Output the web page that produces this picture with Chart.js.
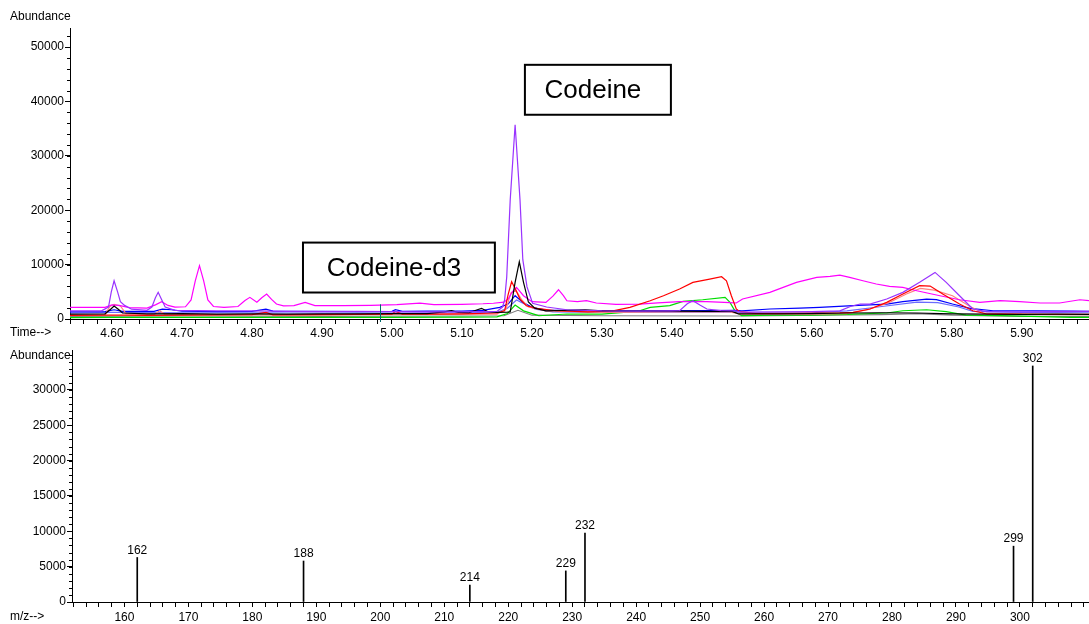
<!DOCTYPE html>
<html>
<head>
<meta charset="utf-8">
<script src="https://cdn.jsdelivr.net/npm/chart.js@4.4.1/dist/chart.umd.min.js"></script>
<style>
html,body{margin:0;padding:0;background:#fff;}
#wrap{position:relative;width:1089px;height:624px;}
canvas{position:absolute;left:0;}
#tic{top:0;}
#ms{top:340px;}
</style>
</head>
<body>
<div id="wrap">
  <canvas id="tic" width="1089" height="340"></canvas>
  <canvas id="ms" width="1089" height="284"></canvas>
</div>
<script>
// ion chromatogram traces: [time (min), abundance]
const purpleTrace = [[4.54,1500],[4.585,1500],[4.595,2200],[4.599,5000],[4.603,7030],[4.608,5000],[4.612,3200],[4.618,2500],[4.628,1800],[4.65,1600],[4.657,2200],[4.662,3900],[4.666,4900],[4.670,3800],[4.676,2200],[4.69,1600],[4.75,1500],[4.80,1500],[4.85,1400],[4.90,1350],[4.95,1400],[5.00,1350],[5.05,1300],[5.10,1300],[5.15,1400],[5.158,2200],[5.161,3500],[5.164,7700],[5.169,21900],[5.176,35700],[5.183,21900],[5.187,10900],[5.193,5900],[5.201,2900],[5.221,2200],[5.25,1700],[5.30,1500],[5.35,1450],[5.40,1500],[5.411,1520],[5.422,2800],[5.430,3360],[5.440,2570],[5.450,1840],[5.47,1550],[5.49,1500],[5.50,1250],[5.55,1300],[5.60,1350],[5.64,1500],[5.655,2300],[5.669,2750],[5.683,2750],[5.707,3670],[5.730,4900],[5.754,6740],[5.776,8570],[5.792,6740],[5.811,4280],[5.830,1840],[5.850,1350],[5.90,1300],[5.95,1350],[5.996,1400]];
const blackTrace = [[4.54,900],[4.59,950],[4.598,1800],[4.603,2400],[4.609,1800],[4.615,1100],[4.65,950],[4.70,1000],[4.75,900],[4.80,950],[4.85,900],[4.90,950],[4.95,950],[5.00,1000],[5.05,1000],[5.075,1300],[5.085,1520],[5.095,1200],[5.11,1150],[5.122,1700],[5.128,1960],[5.136,1400],[5.15,1200],[5.165,1250],[5.169,1290],[5.176,6740],[5.182,10520],[5.188,6740],[5.195,3120],[5.204,2000],[5.22,1500],[5.276,1700],[5.30,1500],[5.35,1450],[5.40,1450],[5.45,1400],[5.485,1450],[5.495,950],[5.55,950],[5.60,1000],[5.65,1100],[5.70,1150],[5.75,1100],[5.80,950],[5.85,900],[5.90,850],[5.95,900],[5.996,850]];
const redTrace = [[4.54,650],[4.59,700],[4.62,700],[4.65,650],[4.70,700],[4.75,750],[4.80,800],[4.82,1200],[4.83,750],[4.90,800],[4.95,850],[5.00,900],[5.005,1400],[5.015,900],[5.05,900],[5.10,950],[5.15,1100],[5.161,1500],[5.166,4500],[5.171,6850],[5.176,5600],[5.183,3670],[5.192,2440],[5.207,1960],[5.235,1520],[5.28,1300],[5.316,1500],[5.34,2150],[5.369,3360],[5.388,4280],[5.411,5510],[5.430,6740],[5.454,7340],[5.471,7770],[5.478,7030],[5.485,4280],[5.492,1840],[5.497,1350],[5.52,1050],[5.56,1050],[5.60,1100],[5.64,1150],[5.659,1230],[5.683,1840],[5.707,3060],[5.730,4590],[5.754,6120],[5.769,6060],[5.787,4590],[5.811,2750],[5.830,1520],[5.850,920],[5.90,900],[5.95,850],[5.996,850]];
const magentaTrace = [[4.54,2150],[4.59,2150],[4.600,2600],[4.610,2500],[4.625,2100],[4.65,2000],[4.662,2600],[4.671,3170],[4.68,2500],[4.69,2200],[4.705,2250],[4.713,3500],[4.719,7000],[4.725,9800],[4.731,7000],[4.737,3500],[4.745,2300],[4.76,2150],[4.78,2300],[4.790,3400],[4.797,3980],[4.807,3070],[4.814,3900],[4.821,4590],[4.828,3600],[4.835,2750],[4.845,2400],[4.86,2450],[4.876,3060],[4.89,2450],[4.93,2450],[4.97,2500],[5.007,2630],[5.04,2900],[5.06,2650],[5.10,2700],[5.13,2800],[5.145,2900],[5.160,3100],[5.166,3670],[5.172,5000],[5.178,5820],[5.188,4280],[5.200,3180],[5.220,3060],[5.230,4200],[5.238,5380],[5.245,4300],[5.250,3360],[5.265,3200],[5.278,3360],[5.292,2940],[5.32,2700],[5.354,2750],[5.38,2950],[5.411,3180],[5.45,3200],[5.483,3000],[5.492,2940],[5.501,3670],[5.54,4900],[5.578,6740],[5.607,7650],[5.626,7830],[5.64,8080],[5.654,7650],[5.673,7030],[5.692,6430],[5.711,6000],[5.730,5820],[5.750,5200],[5.783,4280],[5.811,3540],[5.84,3060],[5.869,3360],[5.897,3180],[5.926,2940],[5.954,2940],[5.983,3540],[5.996,3360]];
const salmonTrace = [[4.54,700],[4.59,750],[4.597,2300],[4.603,2700],[4.612,2400],[4.62,1000],[4.66,800],[4.668,1500],[4.675,900],[4.75,800],[4.85,750],[4.95,800],[5.05,850],[5.15,900],[5.163,1800],[5.170,4800],[5.177,5300],[5.185,3600],[5.195,2200],[5.22,1500],[5.30,1200],[5.40,1300],[5.48,1350],[5.50,900],[5.60,900],[5.65,1000],[5.68,1700],[5.71,3000],[5.735,4600],[5.755,5630],[5.775,5300],[5.801,4280],[5.826,2300],[5.845,1100],[5.90,850],[5.996,800]];
const blueTrace = [[4.54,1300],[4.59,1350],[4.603,1700],[4.615,1400],[4.66,1400],[4.672,1800],[4.685,1700],[4.70,1450],[4.75,1350],[4.80,1400],[4.82,1800],[4.83,1450],[4.90,1400],[4.95,1350],[5.00,1400],[5.005,1700],[5.015,1400],[5.05,1450],[5.10,1450],[5.13,1600],[5.154,2150],[5.166,2750],[5.176,4280],[5.187,3060],[5.200,2150],[5.22,1650],[5.25,1600],[5.30,1550],[5.35,1520],[5.40,1550],[5.45,1550],[5.49,1600],[5.50,1500],[5.54,1840],[5.583,2000],[5.611,2150],[5.659,2450],[5.707,2750],[5.730,3180],[5.764,3670],[5.778,3550],[5.801,2750],[5.826,1960],[5.859,1520],[5.921,1520],[5.973,1430],[5.996,1400]];
const lightBlueTrace = [[4.54,1100],[4.60,1200],[4.70,1150],[4.80,1150],[4.90,1100],[5.00,1100],[5.10,1150],[5.15,1200],[5.165,2000],[5.178,3500],[5.19,2700],[5.205,1800],[5.23,1300],[5.30,1200],[5.40,1250],[5.49,1250],[5.50,1100],[5.60,1150],[5.65,1500],[5.70,2300],[5.75,3100],[5.78,3000],[5.81,2200],[5.83,1400],[5.90,1200],[5.996,1150]];
const greenTrace = [[4.54,250],[4.60,300],[4.70,300],[4.80,300],[4.90,300],[5.00,300],[5.10,350],[5.15,400],[5.165,1000],[5.176,2570],[5.188,1500],[5.205,800],[5.21,600],[5.25,920],[5.30,900],[5.34,1300],[5.354,1520],[5.369,2150],[5.397,2450],[5.416,3250],[5.444,3540],[5.476,3980],[5.483,3060],[5.490,1520],[5.4996,610],[5.55,700],[5.60,700],[5.65,850],[5.707,1100],[5.730,1520],[5.764,1700],[5.792,1350],[5.820,730],[5.870,610],[5.970,310],[5.996,300]];
const grayTrace = [[4.54,500],[4.70,550],[4.90,500],[5.10,550],[5.16,600],[5.18,1600],[5.20,700],[5.30,600],[5.50,550],[5.70,800],[5.75,1000],[5.80,700],[5.90,500],[5.996,500]];

const traceColors = ['#9933ff','#000000','#ff0000','#ff00ff','#ff8080','#0000ff','#6b6bff','#00dd00','#808080'];
const traces = [purpleTrace,blackTrace,redTrace,magentaTrace,salmonTrace,blueTrace,lightBlueTrace,greenTrace,grayTrace];
const cursorTime = 4.983;
const ticYTicks = [0,10000,20000,30000,40000,50000];

// mass spectrum
const massValues = [162,188,214,229,232,299,302];
const massAbund = [6300,5800,2400,4400,9760,7900,33400];
const msYTicks = [0,5000,10000,15000,20000,25000,30000];

const boxes = [
  {text:'Codeine', t0:5.19, t1:5.3986, top:46730, bottom:37550},
  {text:'Codeine-d3', t0:4.8729, t1:5.1471, top:14050, bottom:4870}
];

const FONT = '"Liberation Sans", Arial, sans-serif';
const tickFont = {family:FONT, size:12};

// piccole tacche secondarie sull'asse y
function minorTicks(step){
  return {id:'minor', afterDraw(c){
    const y=c.scales.y, ctx=c.ctx, L=Math.round(c.chartArea.left);
    ctx.save(); ctx.strokeStyle='#000'; ctx.lineWidth=1; ctx.beginPath();
    for(let v=step; v<y.max; v+=step){
      const p=Math.round(y.getPixelForValue(v))+0.5;
      ctx.moveTo(L-3,p); ctx.lineTo(L,p);
    }
    ctx.stroke(); ctx.restore();
  }};
}

function sideText(items){
  return {id:'sideText', afterDraw(c){
    const ctx=c.ctx, a=c.chartArea;
    ctx.save(); ctx.font='12px '+FONT; ctx.fillStyle='#000'; ctx.textBaseline='middle';
    items.forEach(([t,x,fy])=>ctx.fillText(t,x,fy(a)));
    ctx.restore();
  }};
}

const boxPlugin = {id:'boxes', afterDraw(c){
  const {x,y}=c.scales, ctx=c.ctx;
  ctx.save();
  boxes.forEach(b=>{
    const l=x.getPixelForValue(b.t0), r=x.getPixelForValue(b.t1);
    const t=y.getPixelForValue(b.top), bt=y.getPixelForValue(b.bottom);
    ctx.fillStyle='#fff'; ctx.fillRect(l,t,r-l,bt-t);
    ctx.lineWidth=2; ctx.strokeStyle='#000'; ctx.strokeRect(l,t,r-l,bt-t);
    ctx.fillStyle='#000'; ctx.font='26px '+FONT; ctx.textAlign='center'; ctx.textBaseline='middle';
    ctx.fillText(b.text,(l+r)/2-5,(t+bt)/2+1);
  });
  ctx.restore();
}};

const cursorPlugin = {id:'cursor', afterDatasetsDraw(c){
  const {x,y}=c.scales, ctx=c.ctx;
  const px=Math.round(x.getPixelForValue(cursorTime))+0.5;
  ctx.save(); ctx.strokeStyle='#006a6a'; ctx.lineWidth=1; ctx.beginPath();
  ctx.moveTo(px,y.getPixelForValue(2700)); ctx.lineTo(px,c.chartArea.bottom+3); ctx.stroke();
  ctx.restore();
}};

const peakLabels = {id:'peakLabels', afterDatasetsDraw(c){
  const meta=c.getDatasetMeta(0), ctx=c.ctx;
  ctx.save(); ctx.font='12px '+FONT; ctx.textAlign='center'; ctx.textBaseline='bottom'; ctx.fillStyle='#000';
  meta.data.forEach((el,i)=>ctx.fillText(String(massValues[i]),el.x,el.y-1));
  ctx.restore();
}};

const axisBase = {
  grid:{drawOnChartArea:false, color:'#000', tickLength:5},
  border:{color:'#000', width:1}
};

/* CROMATOGRAMMA */
new Chart(document.getElementById('tic').getContext('2d'),{
  type:'line',
  data:{datasets:traces.map((tr,i)=>({
    data:tr.map(p=>({x:p[0],y:p[1]})),
    borderColor:traceColors[i], borderWidth:1.2, pointRadius:0, tension:0, fill:false
  }))},
  options:{
    responsive:false, animation:false, events:[],
    layout:{padding:{top:28,right:0,left:0,bottom:0}},
    plugins:{legend:{display:false}, tooltip:{enabled:false}},
    scales:{
      x:{...axisBase, type:'linear', min:4.54, max:5.996,
        ticks:{stepSize:0.02, includeBounds:false, autoSkip:false, maxRotation:0, padding:2, color:'#000', font:tickFont,
          callback:v=>Math.abs(v*10-Math.round(v*10))<1e-6 ? v.toFixed(2) : ''},
        afterFit:s=>{s.height=21;}},
      y:{...axisBase, min:0, max:53500,
        ticks:{padding:1, color:'#000', font:tickFont, callback:v=>String(v)},
        afterBuildTicks:s=>{s.ticks=ticYTicks.map(v=>({value:v}));},
        afterFit:s=>{s.width=70;}}
    }
  },
  plugins:[minorTicks(2000), cursorPlugin, boxPlugin,
    sideText([['Abundance',10,a=>a.top-11],['Time-->',10,a=>a.bottom+14]])]
});

/* SPETTRO DI MASSA */
new Chart(document.getElementById('ms').getContext('2d'),{
  type:'bar',
  data:{datasets:[{
    data:massValues.map((m,i)=>({x:m,y:massAbund[i]})),
    backgroundColor:'#000', borderWidth:0, barThickness:1
  }]},
  options:{
    responsive:false, animation:false, events:[],
    layout:{padding:{top:10,right:0,left:0,bottom:0}},
    plugins:{legend:{display:false}, tooltip:{enabled:false}},
    scales:{
      x:{...axisBase, type:'linear', min:151.8, max:310.8, offset:false,
        grid:{drawOnChartArea:false, color:'#000', tickLength:5, offset:false},
        ticks:{stepSize:2, includeBounds:false, autoSkip:false, maxRotation:0, padding:3, color:'#000', font:tickFont,
          callback:v=>(v%10===0 && v<=300) ? String(v) : ''},
        afterFit:s=>{s.height=22;}},
      y:{...axisBase, min:0, max:35660,
        ticks:{padding:1, color:'#000', font:tickFont, callback:v=>String(v)},
        afterBuildTicks:s=>{s.ticks=msYTicks.map(v=>({value:v}));},
        afterFit:s=>{s.width=72;}}
    }
  },
  plugins:[minorTicks(1000), peakLabels,
    sideText([['Abundance',10,a=>a.top+6],['m/z-->',10,a=>a.bottom+15]])]
});
</script>
</body>
</html>
